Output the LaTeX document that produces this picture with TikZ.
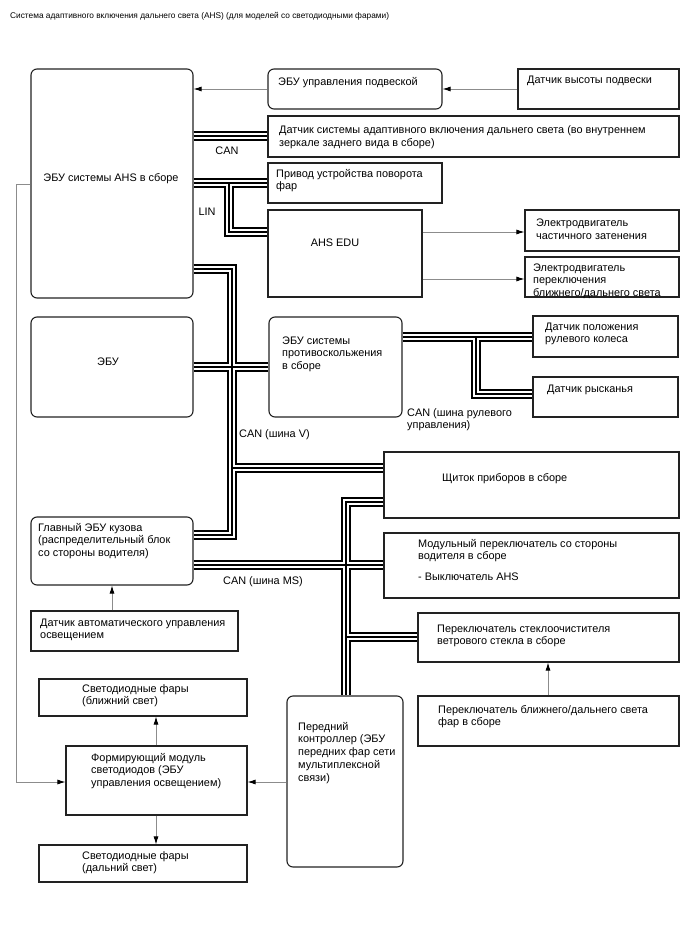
\documentclass[tikz,border=0pt]{standalone}
\usepackage{fontspec}
\setmainfont{Liberation Sans}
\usetikzlibrary{fit,arrows.meta}
\definecolor{edge}{HTML}{222222}
\definecolor{wire}{HTML}{8C8C8C}
\tikzset{
  box/.style={draw=edge, line width=1.1pt, inner sep=0pt, fill=white},
  rbox/.style={box, rounded corners=6pt},
  txt/.style={font=\fontsize{10.9}{12.8}\selectfont, align=left, inner sep=0pt, anchor=base west},
  ctxt/.style={font=\fontsize{10.9}{12.8}\selectfont, inner sep=0pt, anchor=center},
  ttl/.style={font=\fontsize{8.3}{10}\selectfont, inner sep=0pt, anchor=base west},
  arr/.style={draw=wire, line width=0.8pt, -{Latex[length=8pt,width=5pt,color=black]}},
  busA/.style={line width=9.5pt, black, line cap=butt, line join=miter},
  busB/.style={line width=5.7pt, white, line cap=butt, line join=miter},
  busC/.style={line width=1.9pt, black, line cap=butt, line join=miter},
}
\newcommand\busnet[1]{%
  \draw[#1] (ahsecu.east|-0,136) -- (ahssens.west|-0,136);
  \draw[#1] (ahsecu.east|-jlin) -- (privod.west|-jlin);
  \draw[#1] (jlin) |- (edu.west|-0,232);
  \draw[#1] (ahsecu.east|-0,269) -| (jvb) -- (bodyecu.east|-jvb);
  \draw[#1] (ebu.east|-jvx) -- (antiskid.west|-jvx);
  \draw[#1] (jvc) -- (cluster.west|-jvc);
  \draw[#1] (antiskid.east|-jst) -- (steer.west|-jst);
  \draw[#1] (jst) |- (yaw.west|-0,394);
  \draw[#1] (bodyecu.east|-jms) -- (modsw.west|-jms);
  \draw[#1] (cluster.west|-0,502) -| (front.north-|jms);
  \draw[#1] (jwp) -- (wiper.west|-jwp);
}
\begin{document}
\begin{tikzpicture}[x=1pt,y=-1pt]
\useasboundingbox[fill=white] (0,0) rectangle (688,949);

\node[ttl] (title) at (10,19) {Система адаптивного включения дальнего света (AHS) (для моделей со светодиодными фарами)};

% boxes
\node[rbox, fit={(31,69) (193,298)}] (ahsecu) {};
\node[rbox, fit={(268,69) (442,109)}] (susp) {};
\node[box, fit={(518,69) (679,109)}] (height) {};
\node[box, fit={(268,116) (679,157)}] (ahssens) {};
\node[box, fit={(268,163) (442,203)}] (privod) {};
\node[box, fit={(268,210) (422,297)}] (edu) {};
\node[box, fit={(525,210) (679,251)}] (mot1) {};
\node[box, fit={(525,257) (679,297)}] (mot2) {};
\node[rbox, fit={(31,317) (193,417)}] (ebu) {};
\node[rbox, fit={(269,317) (402,417)}] (antiskid) {};
\node[box, fit={(533,316) (678,357)}] (steer) {};
\node[box, fit={(533,377) (678,417)}] (yaw) {};
\node[box, fit={(384,452) (679,518)}] (cluster) {};
\node[rbox, fit={(31,517) (193,585)}] (bodyecu) {};
\node[box, fit={(384,533) (679,598)}] (modsw) {};
\node[box, fit={(31,611) (238,651)}] (lightsens) {};
\node[box, fit={(418,613) (679,662)}] (wiper) {};
\node[box, fit={(39,679) (247,716)}] (low) {};
\node[rbox, fit={(287,696) (403,867)}] (front) {};
\node[box, fit={(418,696) (679,746)}] (hlsw) {};
\node[box, fit={(66,746) (247,815)}] (led) {};
\node[box, fit={(39,845) (247,882)}] (high) {};

% junctions
\coordinate (jlin) at (229,183);
\coordinate (jvb) at (232,535);
\coordinate (jvx) at (232,367);
\coordinate (jvc) at (232,468);
\coordinate (jst) at (476,337);
\coordinate (jms) at (346,565);
\coordinate (jwp) at (346,637);
\coordinate (gl) at (16,184);

% buses
\busnet{busA}
\busnet{busB}
\busnet{busC}

% arrows
\draw[arr] (height.west|-0,89) -- (susp.east|-0,89);
\draw[arr] (susp.west|-0,89) -- (ahsecu.east|-0,89);
\draw[arr] (edu.east|-0,232) -- (mot1.west|-0,232);
\draw[arr] (edu.east|-0,279) -- (mot2.west|-0,279);
\draw[arr] (lightsens.north-|112,0) -- (bodyecu.south-|112,0);
\draw[arr] (hlsw.north-|548,0) -- (wiper.south-|548,0);
\draw[arr] (ahsecu.west|-gl) -- (gl) |- (led.west|-0,782);
\draw[arr] (front.west|-0,782) -- (led.east|-0,782);
\draw[arr] (led.north-|156,0) -- (low.south-|156,0);
\draw[arr] (led.south-|156,0) -- (high.north-|156,0);

% texts (anchor = baseline of the last line)
\node[ctxt] (t-ahsecu) at (111,179) {ЭБУ системы AHS в сборе};
\node[txt] (t-susp) at (278,86) {ЭБУ управления подвеской};
\node[txt] (t-height) at (527,84) {Датчик высоты подвески};
\node[txt] (t-ahssens) at (279,146.8) {Датчик системы адаптивного включения дальнего света (во внутреннем\\зеркале заднего вида в сборе)};
\node[txt] (t-privod) at (276,190) {Привод устройства поворота\\фар};
\node[ctxt] (t-edu) at (335,243) {AHS EDU};
\node[ctxt] (l-can) at (227,151) {CAN};
\node[ctxt] (l-lin) at (207,212) {LIN};
\node[txt] (t-mot1) at (536,239.8) {Электродвигатель\\частичного затенения};
\node[txt] (t-mot2) at (533,296.6) {Электродвигатель\\переключения\\ближнего/дальнего света};
\node[ctxt] (t-ebu) at (108,362) {ЭБУ};
\node[txt] (t-antiskid) at (282,369.6) {ЭБУ системы\\противоскольжения\\в сборе};
\node[txt] (l-canv) at (239,437) {CAN (шина V)};
\node[txt] (t-steer) at (545,342.8) {Датчик положения\\рулевого колеса};
\node[txt] (t-yaw) at (547,392) {Датчик рысканья};
\node[txt] (l-cansteer) at (407,428.8) {CAN (шина рулевого\\управления)};
\node[txt] (t-cluster) at (442,481) {Щиток приборов в сборе};
\node[txt] (t-modsw) at (418,559.8) {Модульный переключатель со стороны\\водителя в сборе};
\node[txt] (t-ahssw) at (418,580) {- Выключатель AHS};
\node[txt] (t-wiper) at (437,644.8) {Переключатель стеклоочистителя\\ветрового стекла в сборе};
\node[txt] (t-bodyecu) at (38,556.6) {Главный ЭБУ кузова\\(распределительный блок\\со стороны водителя)};
\node[txt] (l-canms) at (223,584) {CAN (шина MS)};
\node[txt] (t-light) at (40,638.8) {Датчик автоматического управления\\освещением};
\node[txt] (t-hlsw) at (438,725.8) {Переключатель ближнего/дальнего света\\фар в сборе};
\node[txt] (t-front) at (298,781.2) {Передний\\контроллер (ЭБУ\\передних фар сети\\мультиплексной\\связи)};
\node[txt] (t-low) at (82,704.8) {Светодиодные фары\\(ближний свет)};
\node[txt] (t-led) at (91,786.6) {Формирующий модуль\\светодиодов (ЭБУ\\управления освещением)};
\node[txt] (t-high) at (82,871.8) {Светодиодные фары\\(дальний свет)};
\end{tikzpicture}
\end{document}
